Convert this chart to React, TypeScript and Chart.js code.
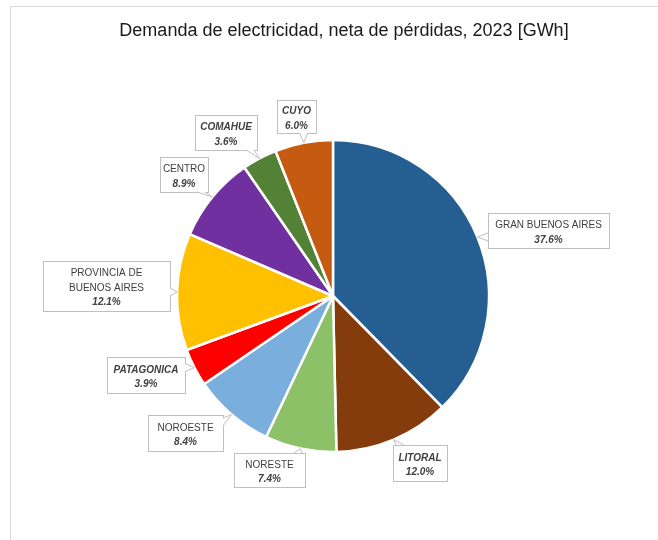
import React, { useEffect, useRef } from "react";
import { Chart, registerables } from "chart.js";

Chart.register(...registerables);

const TITLE = "Demanda de electricidad, neta de pérdidas, 2023 [GWh]";
const CATEGORIES = [
  "GRAN BUENOS AIRES",
  "LITORAL",
  "NORESTE",
  "NOROESTE",
  "PATAGONICA",
  "PROVINCIA DE BUENOS AIRES",
  "CENTRO",
  "COMAHUE",
  "CUYO",
];
const SHARES = [37.6, 12.0, 7.4, 8.4, 3.9, 12.1, 8.9, 3.6, 6.0];
const LABEL_LINES = [
  ["GRAN BUENOS AIRES"],
  ["LITORAL"],
  ["NORESTE"],
  ["NOROESTE"],
  ["PATAGONICA"],
  ["PROVINCIA DE", "BUENOS AIRES"],
  ["CENTRO"],
  ["COMAHUE"],
  ["CUYO"],
];
const NAME_EMPHASIS = [false, true, false, false, true, false, false, true, true];

const COLORS = [
  "#255e91",
  "#843c0c",
  "#8cc168",
  "#7aaedc",
  "#ff0000",
  "#ffc000",
  "#7030a0",
  "#538135",
  "#c55a11",
];

// label box layout: [x, y, w, h]
const LABEL_BOXES = [
  [488, 213, 121, 35],
  [393, 445, 54, 36],
  [234, 453, 71, 34],
  [148, 415, 75, 36],
  [107, 357, 78, 36],
  [43, 261, 127, 50],
  [160, 157, 48, 35],
  [195, 115, 62, 35],
  [277, 100, 39, 33],
];

const FONT = "'Liberation Sans', Arial, sans-serif";

function clamp(v: number, a: number, b: number) {
  return Math.max(a, Math.min(b, v));
}

function drawCallout(ctx: CanvasRenderingContext2D, box: number[], tip: { x: number; y: number }) {
  const [x, y, w, h] = box;
  const r = x + w;
  const b = y + h;
  const dxL = x - tip.x;
  const dxR = tip.x - r;
  const dyT = y - tip.y;
  const dyB = tip.y - b;
  const ex = Math.max(dxL, dxR);
  const ey = Math.max(dyT, dyB);
  const hw = 4;
  let p1: { x: number; y: number };
  let p2: { x: number; y: number };
  if (ex >= ey) {
    const edge = dxL > dxR ? x : r;
    const cy = clamp(tip.y, y + hw + 3, b - hw - 3);
    p1 = { x: edge, y: cy - hw };
    p2 = { x: edge, y: cy + hw };
  } else {
    const edge = dyT > dyB ? y : b;
    const cx = clamp(tip.x, x + hw + 3, r - hw - 3);
    p1 = { x: cx - hw, y: edge };
    p2 = { x: cx + hw, y: edge };
  }
  ctx.save();
  ctx.lineWidth = 1;
  ctx.strokeStyle = "#bfbfbf";
  ctx.fillStyle = "#ffffff";
  ctx.fillRect(x, y, w, h);
  ctx.strokeRect(x + 0.5, y + 0.5, w, h);
  ctx.beginPath();
  ctx.moveTo(p1.x, p1.y);
  ctx.lineTo(tip.x, tip.y);
  ctx.lineTo(p2.x, p2.y);
  ctx.closePath();
  ctx.fill();
  ctx.beginPath();
  ctx.moveTo(p1.x, p1.y);
  ctx.lineTo(tip.x, tip.y);
  ctx.lineTo(p2.x, p2.y);
  ctx.stroke();
  ctx.restore();
}

const decorPlugin = {
  id: "decor",
  beforeDraw(chart: any) {
    const ctx = chart.ctx as CanvasRenderingContext2D;
    ctx.save();
    ctx.strokeStyle = "#d9d9d9";
    ctx.lineWidth = 1;
    ctx.beginPath();
    ctx.moveTo(10.5, 540);
    ctx.lineTo(10.5, 6.5);
    ctx.lineTo(658, 6.5);
    ctx.stroke();
    ctx.fillStyle = "#1a1a1a";
    ctx.font = `18px ${FONT}`;
    ctx.textAlign = "center";
    ctx.textBaseline = "middle";
    ctx.fillText(TITLE, 344, 31);
    ctx.restore();
  },
  afterDraw(chart: any) {
    const ctx = chart.ctx as CanvasRenderingContext2D;
    const meta = chart.getDatasetMeta(0);
    meta.data.forEach((el: any, i: number) => {
      const p = el.getProps(["x", "y", "startAngle", "endAngle", "outerRadius"], true);
      const a = (p.startAngle + p.endAngle) / 2;
      const tip = { x: p.x + Math.cos(a) * p.outerRadius, y: p.y + Math.sin(a) * p.outerRadius };
      const box = LABEL_BOXES[i];
      drawCallout(ctx, box, tip);
      const lines = LABEL_LINES[i];
      const value = SHARES[i].toFixed(1) + "%";
      const all = [...lines, value];
      const lh = 14.5;
      const cx = box[0] + box[2] / 2;
      const cy = box[1] + box[3] / 2 + 2;
      const start = cy - ((all.length - 1) * lh) / 2;
      ctx.save();
      ctx.fillStyle = "#404040";
      ctx.textAlign = "center";
      ctx.textBaseline = "middle";
      all.forEach((t, j) => {
        const isValue = j === all.length - 1;
        ctx.font = isValue || NAME_EMPHASIS[i] ? `italic bold 10px ${FONT}` : `10px ${FONT}`;
        ctx.fillText(t, cx, start + j * lh);
      });
      ctx.restore();
    });
  },
};

export default function App() {
  const ref = useRef<HTMLCanvasElement | null>(null);
  useEffect(() => {
    document.body.style.margin = "0";
    if (!ref.current) return;
    const chart = new Chart(ref.current, {
      type: "pie",
      data: {
        labels: CATEGORIES,
        datasets: [
          {
            data: SHARES,
            backgroundColor: COLORS,
            borderColor: "#ffffff",
            borderWidth: 2.5,
            hoverOffset: 0,
          },
        ],
      },
      options: {
        animation: false,
        responsive: false,
        maintainAspectRatio: false,
        devicePixelRatio: 1,
        radius: 156,
        layout: { padding: { left: 18, right: 10, top: 62, bottom: 10 } },
        plugins: {
          legend: { display: false },
          tooltip: { enabled: false },
          title: { display: false },
        },
      } as any,
      plugins: [decorPlugin],
    });
    return () => chart.destroy();
  }, []);
  return (
    <div style={{ position: "fixed", left: 0, top: 0, width: 658, height: 540, background: "#fff" }}>
      <canvas ref={ref} width={658} height={540} style={{ width: 658, height: 540 }} />
    </div>
  );
}
